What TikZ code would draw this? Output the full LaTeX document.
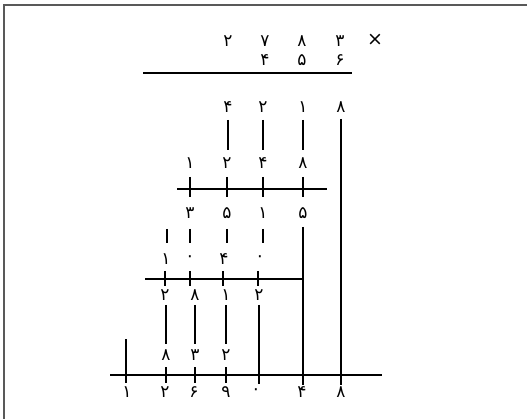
\documentclass[tikz,border=0pt]{standalone}
\usepackage{fontspec}
\newfontfamily\arabicfont[Script=Arabic]{DejaVu Sans}
\newfontfamily\symfont{DejaVu Sans}
\begin{document}
\begin{tikzpicture}[x=1pt,y=-1pt,
  dig/.style={font=\arabicfont\fontsize{17}{17}\selectfont, inner sep=0pt, anchor=center},
  rule/.style={line width=2.8pt},
  frame/.style={line width=1.4pt, draw=black!65}]
\useasboundingbox (0,0) rectangle (527,419);
% open frame: left and top edges
\draw[frame] (4,419) -- (4,5) -- (527,5);

% multiplicand and multiplier
\node[dig] (a1) at (228,41) {۲};
\node[dig] (a2) at (265,41) {۷};
\node[dig] (a3) at (302,41) {۸};
\node[dig] (a4) at (340,41) {۳};
\node[font=\symfont\fontsize{19}{19}\selectfont, inner sep=0pt] (times) at (375,40) {×};
\node[dig] (b2) at (265,60) {۴};
\node[dig] (b3) at (302,60) {۵};
\node[dig] (b4) at (340,60) {۶};
\coordinate (l1w) at (143,73); \coordinate (l1e) at (352,73);
\draw[rule] (l1w) -- (l1e);

% first partial product
\node[dig] (c1) at (228,107) {۴};
\node[dig] (c2) at (263,107) {۲};
\node[dig] (c3) at (303,107) {۱};
\node[dig] (c4) at (341,107) {۸};
\foreach \x/\n in {228/1,263/2,303/3}{
  \coordinate (cv\n t) at (\x,120); \coordinate (cv\n b) at (\x,150);
  \draw[rule] (cv\n t) -- (cv\n b);}
\coordinate (u8t) at (341,119); \coordinate (u8b) at (341,385);
\draw[rule] (u8t) -- (u8b);

\node[dig] (d1) at (190,163) {۱};
\node[dig] (d2) at (227,163) {۲};
\node[dig] (d3) at (263,163) {۴};
\node[dig] (d4) at (303,163) {۸};
\foreach \x/\n in {190/1,227/2,263/3,303/4}{
  \coordinate (dt\n t) at (\x,177); \coordinate (dt\n b) at (\x,197);
  \draw[rule] (dt\n t) -- (dt\n b);}
\coordinate (l2w) at (177,189); \coordinate (l2e) at (327,189);
\draw[rule] (l2w) -- (l2e);

% second partial product
\node[dig] (e1) at (190,213) {۳};
\node[dig] (e2) at (227,213) {۵};
\node[dig] (e3) at (263,213) {۱};
\node[dig] (e4) at (303,213) {۵};
\foreach \x/\n in {167/0,190/1,227/2,263/3}{
  \coordinate (ev\n t) at (\x,229); \coordinate (ev\n b) at (\x,243);
  \draw[rule] (ev\n t) -- (ev\n b);}
\coordinate (u4t) at (303,227); \coordinate (u4b) at (303,385);
\draw[rule] (u4t) -- (u4b);

\node[dig] (f1) at (166,259) {۱};
\node[dig] (f2) at (190,259) {۰};
\node[dig] (f3) at (224,259) {۴};
\node[dig] (f4) at (260,259) {۰};
\foreach \x/\n in {165/1,190/2,223/3,258/4}{
  \coordinate (ft\n t) at (\x,271); \coordinate (ft\n b) at (\x,286);
  \draw[rule] (ft\n t) -- (ft\n b);}
\coordinate (l3w) at (145,279); \coordinate (l3e) at (303,279);
\draw[rule] (l3w) -- (l3e);

% third partial product
\node[dig] (g1) at (165,295) {۲};
\node[dig] (g2) at (195,295) {۸};
\node[dig] (g3) at (226,295) {۱};
\node[dig] (g4) at (259,295) {۲};
\foreach \x/\n in {166/1,195/2,226/3}{
  \coordinate (gv\n t) at (\x,305); \coordinate (gv\n b) at (\x,344);
  \draw[rule] (gv\n t) -- (gv\n b);}
\coordinate (u0t) at (259,305); \coordinate (u0b) at (259,384);
\draw[rule] (u0t) -- (u0b);

\node[dig] (h1) at (166,355) {۸};
\node[dig] (h2) at (195,355) {۳};
\node[dig] (h3) at (226,355) {۲};
\foreach \x/\n in {166/1,195/2,226/3}{
  \coordinate (ht\n t) at (\x,367); \coordinate (ht\n b) at (\x,383);
  \draw[rule] (ht\n t) -- (ht\n b);}
\coordinate (u1t) at (126,339); \coordinate (u1b) at (126,383);
\draw[rule] (u1t) -- (u1b);
\coordinate (l4w) at (110,375); \coordinate (l4e) at (382,375);
\draw[rule] (l4w) -- (l4e);

% result
\node[dig] (r1) at (127,392) {۱};
\node[dig] (r2) at (165,392) {۲};
\node[dig] (r3) at (194,392) {۶};
\node[dig] (r4) at (226,392) {۹};
\node[dig] (r5) at (256,392) {۰};
\node[dig] (r6) at (302,392) {۴};
\node[dig] (r7) at (341,392) {۸};
\end{tikzpicture}
\end{document}
